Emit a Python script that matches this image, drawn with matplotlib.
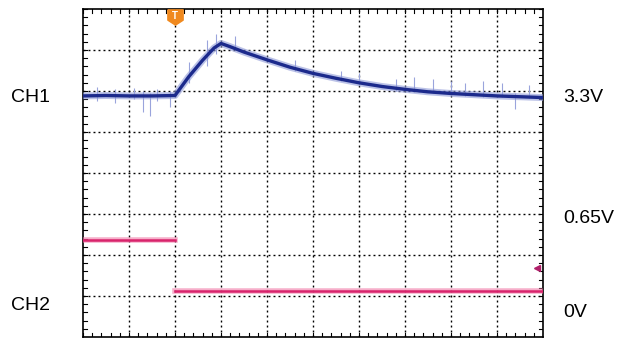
import numpy as np
import matplotlib
matplotlib.use("Agg")
import matplotlib.pyplot as plt

plt.rcParams['font.family'] = ['Liberation Sans', 'DejaVu Sans']

# CH1 trace (time in div, level in div)
ch1_t = [0.0, 0.5, 1.0, 1.5, 2.0, 2.3, 2.6, 2.85, 3.0, 3.2, 3.5, 4.0, 4.5, 5.0,
         5.5, 6.0, 6.5, 7.0, 7.5, 8.0, 8.5, 9.0, 9.5, 10.0]
ch1_v = [5.88, 5.89, 5.88, 5.88, 5.89, 6.35, 6.75, 7.05, 7.16, 7.08, 6.95, 6.76,
         6.58, 6.43, 6.31, 6.2, 6.11, 6.04, 5.98, 5.94, 5.91, 5.88, 5.86, 5.84]

# noise spikes on CH1 seen on the screen: time, low end, high end
spike_t = [0.3, 0.7, 1.1, 1.3, 1.45, 1.6, 1.9, 2.3, 2.7, 2.9, 3.3, 4.6, 5.6,
           6.0, 6.8, 7.2, 7.6, 8.0, 8.3, 8.7, 9.1, 9.4, 9.7]
spike_lo = [5.75, 5.7, 5.8, 5.5, 5.4, 5.75, 5.6, 6.2, 6.6, 6.9, 7.0, 6.5, 6.25,
            6.15, 6.0, 5.97, 5.95, 5.9, 5.88, 5.85, 5.85, 5.55, 5.82]
spike_hi = [6.1, 6.05, 6.08, 6.0, 5.95, 6.05, 6.0, 6.7, 7.25, 7.4, 7.35, 6.75, 6.5,
            6.45, 6.3, 6.35, 6.3, 6.25, 6.2, 6.25, 6.2, 5.95, 6.15]

# CH2 trace: two flat levels, split at the trigger
ch2_t_hi = [0.0, 2.0]
ch2_v_hi = [2.36, 2.36]
ch2_t_lo = [2.0, 10.0]
ch2_v_lo = [1.12, 1.12]

trig_t = 2.0
ch2_ref = 1.68

left_labels = [("CH1", 5.85), ("CH2", 0.78)]
right_labels = [("3.3V", 5.85), ("0.65V", 2.9), ("0V", 0.6)]

fig = plt.figure(figsize=(6.3, 3.41), dpi=100)
ax = fig.add_axes([83/630, 4/341, 460/630, 328/341])

ax.set_xlim(0, 10)
ax.set_ylim(0, 8)

# dotted graticule
for x in range(1, 10):
    ax.axvline(x, color='black', lw=1.0, ls=(0, (1.4, 2.2)), zorder=1)
for y in range(1, 8):
    ax.axhline(y, color='black', lw=1.0, ls=(0, (1.4, 2.2)), zorder=1)

ax.set_xticks([])
ax.set_yticks([])
for s in ax.spines.values():
    s.set_linewidth(1.2)

# small ticks along the border, every 0.2 div
for x in np.arange(0, 10.01, 0.2):
    ax.plot([x, x], [0, 0.09], color='black', lw=0.8, zorder=2)
    ax.plot([x, x], [8, 7.91], color='black', lw=0.8, zorder=2)
for y in np.arange(0, 8.01, 0.2):
    ax.plot([0, 0.08], [y, y], color='black', lw=0.8, zorder=2)
    ax.plot([10, 9.92], [y, y], color='black', lw=0.8, zorder=2)

# traces
ax.vlines(spike_t, spike_lo, spike_hi, color='#9aa4dc', lw=0.8, zorder=3)
ax.plot(ch1_t, ch1_v, color='#8f9ad8', lw=5, alpha=0.6, zorder=3)
ax.plot(ch1_t, ch1_v, color='#1c2a8c', lw=2.4, zorder=4)
ax.plot(ch2_t_hi, ch2_v_hi, color='#f07aa8', lw=4, alpha=0.6, zorder=3)
ax.plot(ch2_t_hi, ch2_v_hi, color='#d8246c', lw=1.8, zorder=4)
ax.plot(ch2_t_lo, ch2_v_lo, color='#f07aa8', lw=4, alpha=0.6, zorder=3)
ax.plot(ch2_t_lo, ch2_v_lo, color='#d8246c', lw=1.8, zorder=4)

# trigger marker (orange shield with a T) and CH2 reference arrow
shield = [(-1, 1), (1, 1), (1, -0.35), (0, -1), (-1, -0.35), (-1, 1)]
ax.plot(trig_t, 7.8, marker=shield, color='#f0891e', ms=11, zorder=6, clip_on=False)
ax.text(trig_t, 7.83, "T", color='white', fontsize=7, fontweight='bold',
        ha='center', va='center', zorder=7)
ax.plot(9.86, ch2_ref, marker='<', color='#b0206a', ms=5, zorder=6, clip_on=False)

for txt, y in left_labels:
    ax.text(-1.15, y, txt, fontsize=14, ha='center', va='center', clip_on=False)
for txt, y in right_labels:
    ax.text(10.45, y, txt, fontsize=14, ha='left', va='center', clip_on=False)

fig.savefig("out.png", dpi=100)
